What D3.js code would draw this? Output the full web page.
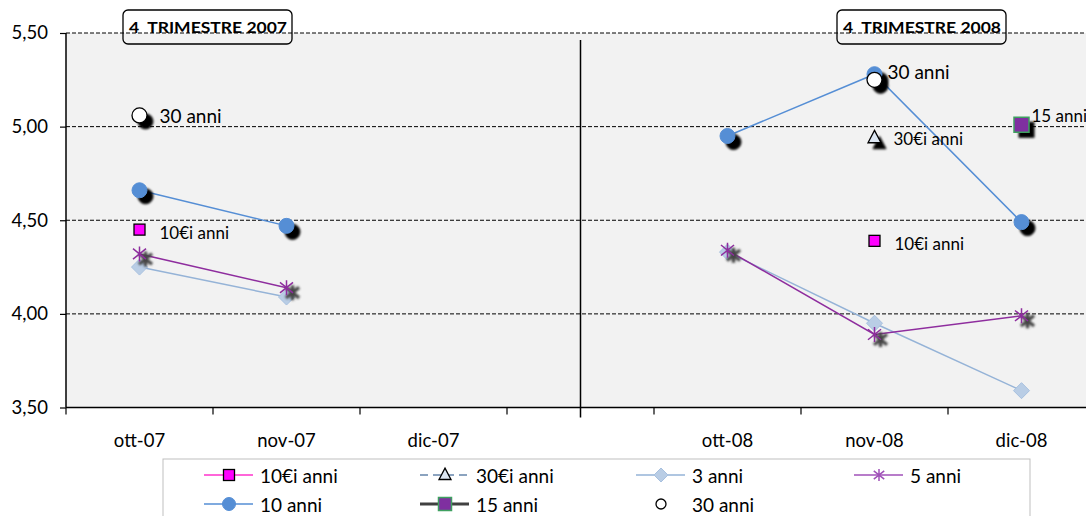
<!DOCTYPE html>
<html><head><meta charset="utf-8">
<script src="https://cdn.jsdelivr.net/npm/d3@7"></script>
<style>
html,body{margin:0;padding:0;background:#fff;}
svg{display:block;font-family:Lato,"Open Sans",sans-serif;}
</style></head>
<body>
<svg id="chart" width="1086" height="516"></svg>
<script>
// ---- data ----
const categories = ["ott-07","nov-07","dic-07","","ott-08","nov-08","dic-08"];
const yTicks = [3.5, 4.0, 4.5, 5.0, 5.5];
const periodTitles = ["4  TRIMESTRE 2007", "4  TRIMESTRE 2008"];
const s10e = [4.45, null, null, null, null, 4.39, null];   // 10€i anni
const s30e = [null, null, null, null, null, 4.94, null];   // 30€i anni
const s3   = [4.25, 4.09, null, null, 4.33, 3.95, 3.59];   // 3 anni
const s5   = [4.32, 4.14, null, null, 4.34, 3.89, 3.99];   // 5 anni
const s10  = [4.66, 4.47, null, null, 4.95, 5.28, 4.49];   // 10 anni
const s15  = [null, null, null, null, null, null, 5.01];   // 15 anni
const s30  = [5.06, null, null, null, null, 5.25, null];   // 30 anni
const legendNames = ["10€i anni","30€i anni","3 anni","5 anni","10 anni","15 anni","30 anni"];

// ---- layout ----
const svg = d3.select("#chart");
const X0 = 66, BAND = 147, YT = 33, YB = 407.5;
const x = d3.scaleBand().domain(categories).range([X0, X0 + BAND*categories.length]).padding(0);
const y = d3.scaleLinear().domain([3.5, 5.5]).range([YB, YT]);
const cx = c => x(c) + x.bandwidth()/2;

const defs = svg.append("defs");
const f = defs.append("filter").attr("id","blur").attr("x","-50%").attr("y","-50%").attr("width","200%").attr("height","200%");
f.append("feGaussianBlur").attr("stdDeviation",0.8);

// background
svg.append("rect").attr("x",X0).attr("y",YT).attr("width",1096-X0).attr("height",YB-YT).attr("fill","#f2f2f2");

// gridlines
svg.append("g").selectAll("line").data(yTicks.filter(d=>d>3.5)).join("line")
  .attr("x1",X0).attr("x2",1096).attr("y1",d=>y(d)).attr("y2",d=>y(d))
  .attr("stroke","#000").attr("stroke-width",1).attr("stroke-dasharray","4,2");

// y axis
const yAxis = d3.axisLeft(y).tickValues(yTicks).tickSize(6).tickPadding(12)
  .tickFormat(d => d.toFixed(2).replace(".", ","));
const gy = svg.append("g").attr("transform",`translate(${X0},0)`).call(yAxis);
gy.select(".domain").remove();
gy.selectAll(".tick line").attr("stroke","#000").attr("stroke-width",1.2);
gy.selectAll(".tick text").attr("font-size",18.5).attr("fill","#000").attr("font-family","Lato");
svg.append("line").attr("x1",X0).attr("x2",X0).attr("y1",YT).attr("y2",YB).attr("stroke","#000").attr("stroke-width",1.5);

// x axis
svg.append("line").attr("x1",X0).attr("x2",1096).attr("y1",YB).attr("y2",YB).attr("stroke","#000").attr("stroke-width",1.5);
const bounds = categories.map(c => x(c)).concat([x(categories[categories.length-1]) + x.bandwidth()]);
svg.append("g").selectAll("line").data(bounds).join("line")
  .attr("x1",d=>d).attr("x2",d=>d).attr("y1",YB).attr("y2",YB+7).attr("stroke","#000").attr("stroke-width",1.2);
const xAxis = d3.axisBottom(x).tickSize(0).tickPadding(26);
const gx = svg.append("g").attr("transform",`translate(0,${YB})`).call(xAxis);
gx.select(".domain").remove();
gx.selectAll(".tick text").attr("font-size",18.5).attr("fill","#000").attr("font-family","Lato");

// divider between periods
svg.append("line").attr("x1",cx("")).attr("x2",cx("")).attr("y1",YT+7).attr("y2",YB+10)
  .attr("stroke","#000").attr("stroke-width",1.5);

// period titles
const titleBoxX = [123, 837];
periodTitles.forEach((t,i) => {
  const bx = titleBoxX[i];
  svg.append("rect").attr("x",bx).attr("y",10).attr("width",169).attr("height",34).attr("rx",5)
    .attr("fill","none").attr("stroke","#000").attr("stroke-width",1.3);
  svg.append("text").attr("x",bx+6).attr("y",33)
    .attr("font-size",16).attr("font-weight","bold").attr("fill","#000")
    .attr("textLength",158).attr("lengthAdjust","spacingAndGlyphs")
    .style("white-space","pre").text(t);
});

// ---- marker drawers ----
function starPath(r){
  return `M0,${-r}L0,${r}M${-r*0.87},${-r*0.7}L${r*0.87},${r*0.7}M${-r*0.87},${r*0.7}L${r*0.87},${-r*0.7}`;
}
const sym = {
  circle: (g,r)=>g.append("circle").attr("r",r),
  square: (g,r)=>g.append("rect").attr("x",-r).attr("y",-r).attr("width",2*r).attr("height",2*r),
  triangle: (g,r)=>g.append("path").attr("d",`M0,${-r*1.15}L${r},${r*0.75}L${-r},${r*0.75}Z`),
  diamond: (g,r)=>g.append("path").attr("d",`M0,${-r}L${r},0L0,${r}L${-r},0Z`),
  star: (g,r)=>g.append("path").attr("d",starPath(r))
};

const lineGen = d3.line().defined(d=>d.v!==null).x(d=>cx(d.c)).y(d=>y(d.v));
const pts = arr => arr.map((v,i)=>({c:categories[i], v}));

function drawLine(arr, color, w){
  svg.append("path").datum(pts(arr)).attr("d",lineGen).attr("fill","none")
    .attr("stroke",color).attr("stroke-width",w);
}
function drawMarkers(arr, shape, r, style, shadow){
  const data = pts(arr).filter(d=>d.v!==null);
  data.forEach(d=>{
    const px = cx(d.c), py = y(d.v);
    if (shadow){
      const sg = svg.append("g").attr("transform",`translate(${px+shadow.dx},${py+shadow.dy})`).attr("filter","url(#blur)");
      const s = sym[shape](sg, r);
      if (shape==="star") s.attr("fill","none").attr("stroke",shadow.color).attr("stroke-width",3.4);
      else s.attr("fill",shadow.color).attr("stroke",shadow.color).attr("stroke-width",1);
    }
    const g = svg.append("g").attr("transform",`translate(${px},${py})`);
    const m = sym[shape](g, r);
    m.attr("fill",style.fill).attr("stroke",style.stroke).attr("stroke-width",style.sw);
  });
}

const C10 = "#558ed5", C3L = "#95b3d7", C3F = "#b9cde5", C5 = "#8e2d9e";

// lines
drawLine(s3, C3L, 1.5);
drawLine(s5, C5, 1.5);
drawLine(s10, C10, 1.5);

// markers
drawMarkers(s3, "diamond", 8, {fill:C3F, stroke:"#a7c0df", sw:1}, null);
drawMarkers(s5, "star", 7.5, {fill:"none", stroke:C5, sw:1.5}, {dx:6, dy:5, color:"#444"});
drawMarkers(s10, "circle", 7.5, {fill:C10, stroke:C10, sw:1}, {dx:6, dy:6, color:"#000"});
drawMarkers(s30, "circle", 7.5, {fill:"#fff", stroke:"#000", sw:1.3}, {dx:6, dy:6, color:"#000"});
drawMarkers(s10e, "square", 5.5, {fill:"#ff00ff", stroke:"#000", sw:1.3}, null);
drawMarkers(s30e, "triangle", 6.5, {fill:"#dce6f2", stroke:"#000", sw:1.3}, {dx:5, dy:6, color:"#000"});
drawMarkers(s15, "square", 7.5, {fill:"#7f2fa0", stroke:"#3fa060", sw:1.5}, {dx:5, dy:5, color:"#000"});

// data labels
function label(arr, name, dx, dy, size){
  pts(arr).filter(d=>d.v!==null).forEach(d=>{
    svg.append("text").attr("x",cx(d.c)+dx).attr("y",y(d.v)+dy).attr("font-size",size)
      .attr("fill","#000").attr("dominant-baseline","central").text(name);
  });
}
label(s30.map((v,i)=>i===0?v:null), "30 anni", 20, 0, 19);
label(s30.map((v,i)=>i===5?v:null), "30 anni", 13, -8, 19);
label(s10e, "10€i anni", 20, 3, 17);
label(s30e, "30€i anni", 19, 1, 17);
label(s15, "15 anni", 10, -9, 17);

// ---- legend ----
svg.append("rect").attr("x",163).attr("y",459).attr("width",867).attr("height",70)
  .attr("fill","#fff").attr("stroke","#bfbfbf").attr("stroke-width",1);
const legendItems = [
  {name:legendNames[0], col:0, row:0, line:{c:"#ff33cc", w:1.5}, shape:"square", r:5.5, st:{fill:"#ff00ff", stroke:"#000", sw:1.3}},
  {name:legendNames[1], col:1, row:0, line:{c:"#6685aa", w:1.5, dash:"8,5"}, shape:"triangle", r:6, st:{fill:"#dce6f2", stroke:"#000", sw:1.3}},
  {name:legendNames[2], col:2, row:0, line:{c:C3L, w:1.5}, shape:"diamond", r:7, st:{fill:C3F, stroke:"#a7c0df", sw:1}},
  {name:legendNames[3], col:3, row:0, line:{c:"#a050b8", w:1.5}, shape:"star", r:6, st:{fill:"none", stroke:"#a050b8", sw:1.5}},
  {name:legendNames[4], col:0, row:1, line:{c:C10, w:1.5}, shape:"circle", r:6.5, st:{fill:C10, stroke:C10, sw:1}},
  {name:legendNames[5], col:1, row:1, line:{c:"#404040", w:3}, shape:"square", r:6.5, st:{fill:"#7f2fa0", stroke:"#3fa060", sw:1.5}},
  {name:legendNames[6], col:2, row:1, line:null, shape:"circle", r:5, st:{fill:"#fff", stroke:"#000", sw:1.3}}
];
const colX = [229, 445, 661, 879], rowY = [475, 504];
legendItems.forEach(it=>{
  const mx = colX[it.col], my = rowY[it.row];
  if (it.line){
    svg.append("line").attr("x1",mx-25).attr("x2",mx+24).attr("y1",my).attr("y2",my)
      .attr("stroke",it.line.c).attr("stroke-width",it.line.w).attr("stroke-dasharray",it.line.dash||null);
  }
  const g = svg.append("g").attr("transform",`translate(${mx},${my})`);
  sym[it.shape](g, it.r).attr("fill",it.st.fill).attr("stroke",it.st.stroke).attr("stroke-width",it.st.sw);
  svg.append("text").attr("x",mx+31).attr("y",my).attr("dominant-baseline","central")
    .attr("font-size",19).attr("fill","#000").text(it.name);
});
</script>
</body></html>
